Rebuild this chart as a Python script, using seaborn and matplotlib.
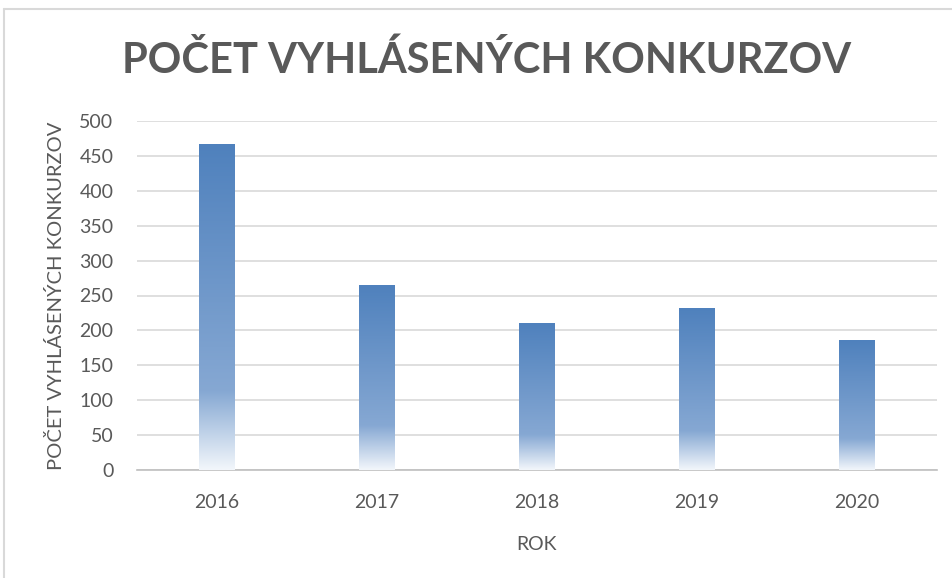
import numpy as np
import pandas as pd
import seaborn as sns
import matplotlib.pyplot as plt
from matplotlib.colors import to_rgb
from matplotlib.lines import Line2D

# data
roky = ["2016", "2017", "2018", "2019", "2020"]
konkurzy = [467, 265, 210, 232, 186]
y_ticks = [0, 50, 100, 150, 200, 250, 300, 350, 400, 450, 500]

df = pd.DataFrame({"ROK": roky, "pocet": konkurzy})

sns.set_style("white")
plt.rcParams["font.family"] = ["Lato", "DejaVu Sans"]

text_col = "#595959"
grid_col = "#D9D9D9"

fig = plt.figure(figsize=(9.53, 5.78), dpi=100)
ax = fig.add_axes([137 / 953, 1 - 470 / 578, 800 / 953, 349 / 578])

sns.barplot(data=df, x="ROK", y="pocet", color="#4F81BD", width=0.225,
            saturation=1, ax=ax, zorder=3)

# gradient fill like excel: dark top, fading to almost white at the bottom
stops = [0.0, 0.76, 1.0]
cols = [to_rgb("#4F81BD"), to_rgb("#86A8D3"), to_rgb("#F2F6FB")]
t = np.linspace(0, 1, 256)
grad = np.stack([np.interp(t, stops, [c[i] for c in cols]) for i in range(3)], axis=1)
grad = grad[:, None, :]

for p in ax.patches:
    x0, y0 = p.get_x(), p.get_y()
    w, h = p.get_width(), p.get_height()
    p.set_facecolor("none")
    p.set_edgecolor("none")
    im = ax.imshow(grad, extent=[x0, x0 + w, y0, y0 + h], aspect="auto",
                   origin="upper", zorder=3, interpolation="bilinear")
    im.set_clip_path(p)

ax.set_xlim(-0.5, len(roky) - 0.5)
ax.set_ylim(0, 500)
ax.set_yticks(y_ticks)
ax.yaxis.grid(True, color=grid_col, linewidth=1.2)
ax.set_axisbelow(True)
for s in ["top", "right", "left"]:
    ax.spines[s].set_visible(False)
ax.spines["bottom"].set_color("#BFBFBF")
ax.spines["bottom"].set_linewidth(1.2)
ax.tick_params(axis="both", length=0, labelsize=14, colors=text_col)
ax.tick_params(axis="y", pad=17)
ax.tick_params(axis="x", pad=17)

ax.set_xlabel("ROK", fontsize=14, color=text_col, labelpad=18)
ax.set_ylabel("POČET VYHLÁSENÝCH KONKURZOV", fontsize=14.5, color=text_col, labelpad=10)

fig.text(487 / 953, 1 - 60 / 578, "POČET VYHLÁSENÝCH KONKURZOV", ha="center", va="center",
         fontsize=30, fontweight="bold", color=text_col)

# light frame of the chart area
fig.add_artist(Line2D([4 / 953, 4 / 953], [0, 1 - 9 / 578], transform=fig.transFigure,
                      color=grid_col, linewidth=1.5))
fig.add_artist(Line2D([4 / 953, 1], [1 - 9 / 578, 1 - 9 / 578], transform=fig.transFigure,
                      color=grid_col, linewidth=1.5))

fig.savefig("out.png", dpi=100)
